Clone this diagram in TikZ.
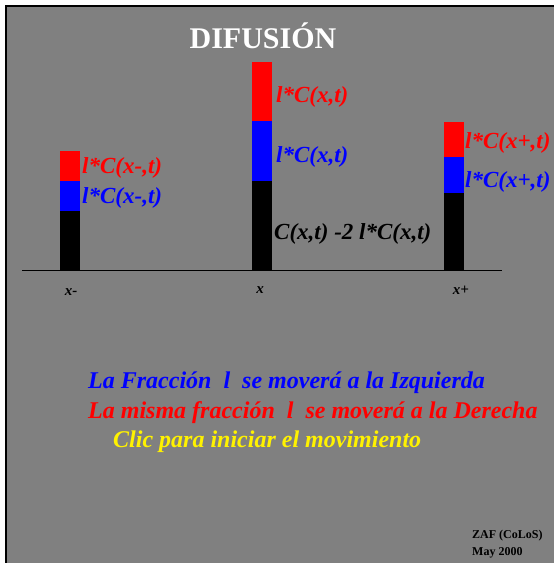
\documentclass[tikz,border=0pt]{standalone}
\usepackage{fontspec}
\setmainfont{Liberation Serif}
\begin{document}
\begin{tikzpicture}[x=1pt,y=-1pt,
  lbl/.style={inner sep=0pt,anchor=west,font=\fontsize{23}{26}\selectfont\bfseries\itshape},
  axl/.style={inner sep=0pt,font=\fontsize{15}{17}\selectfont\bfseries\itshape},
  msg/.style={inner sep=0pt,anchor=west,font=\fontsize{24}{27}\selectfont\bfseries\itshape},
  cred/.style={inner sep=0pt,anchor=west,font=\fontsize{12}{14}\selectfont\bfseries}]
\useasboundingbox (0,0) rectangle (554,563);
\fill[white] (0,0) rectangle (554,563);
\fill[fill={rgb,255:red,128;green,128;blue,128}] (5,5) rectangle (554,563);
\draw[line width=2.4pt] (6.2,563) -- (6.2,6.2) -- (554,6.2);
% axis
\coordinate (axL) at (22,270.5);
\coordinate (axR) at (502,270.5);
\draw[line width=1.8pt] (axL) -- (axR);
% left bar
\fill[red] (60,151) rectangle (80,181);
\fill[blue] (60,181) rectangle (80,211);
\fill[black] (60,211) rectangle (80,270);
% middle bar
\fill[red] (252,62) rectangle (272,121);
\fill[blue] (252,121) rectangle (272,181);
\fill[black] (252,181) rectangle (272,270);
% right bar
\fill[red] (444,122) rectangle (464,157);
\fill[blue] (444,157) rectangle (464,193);
\fill[black] (444,193) rectangle (464,270);
% title
\node[inner sep=0pt,text=white,font=\fontsize{30}{34}\selectfont\bfseries] (title) at (263,36) {DIFUSIÓN};
% labels
\node[lbl,text=red] (l1) at (82,168) {l*C(x-,t)};
\node[lbl,text=blue] (l2) at (82,198) {l*C(x-,t)};
\node[lbl,text=red] (m1) at (276,97) {l*C(x,t)};
\node[lbl,text=blue] (m2) at (276,157) {l*C(x,t)};
\node[lbl,text=black] (m3) at (274,234) {C(x,t) -2 l*C(x,t)};
\node[lbl,text=red] (r1) at (465,143) {l*C(x+,t)};
\node[lbl,text=blue] (r2) at (465,182) {l*C(x+,t)};
% axis labels
\node[axl] (xm) at (71,292) {x-};
\node[axl] (x0) at (260,290) {x};
\node[axl] (xp) at (461,290) {x+};
% messages
\node[msg,text=blue] (t1) at (88,383) {La Fracción\ \ l\ \ se moverá a la Izquierda};
\node[msg,text=red] (t2) at (88,413) {La misma fracción\ \ l\ \ se moverá a la Derecha};
\node[msg,text=yellow] (t3) at (113,442) {Clic para iniciar el movimiento};
% credits
\node[cred] (c1) at (472,536) {ZAF (CoLoS)};
\node[cred] (c2) at (472,553) {May 2000};
\end{tikzpicture}
\end{document}
